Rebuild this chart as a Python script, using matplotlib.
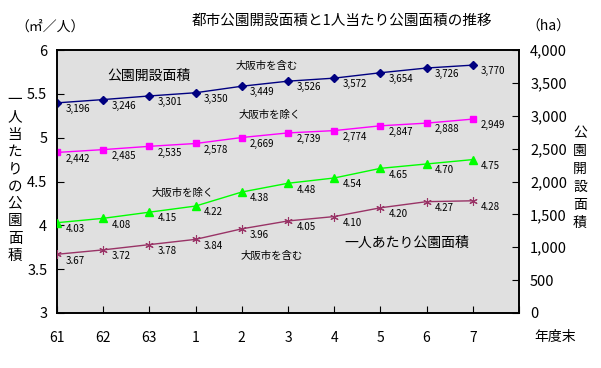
import numpy as np
import matplotlib.pyplot as plt

plt.rcParams['font.family'] = ['Noto Sans CJK JP', 'DejaVu Sans']

# 年度
years = ['61', '62', '63', '1', '2', '3', '4', '5', '6', '7']
# 公園開設面積 (ha)
area_incl = [3196, 3246, 3301, 3350, 3449, 3526, 3572, 3654, 3726, 3770]
area_excl = [2442, 2485, 2535, 2578, 2669, 2739, 2774, 2847, 2888, 2949]
# 一人当たり公園面積 (m2/人)
pp_excl = [4.03, 4.08, 4.15, 4.22, 4.38, 4.48, 4.54, 4.65, 4.70, 4.75]
pp_incl = [3.67, 3.72, 3.78, 3.84, 3.96, 4.05, 4.10, 4.20, 4.27, 4.28]

x = np.arange(len(years))

fig = plt.figure(figsize=(6.01, 3.68), dpi=100)
ax = fig.add_axes([57/601, 55/368, 462/601, 263/368])
ax2 = ax.twinx()

ax.set_xlim(0, 10)
ax.set_ylim(3, 6)
ax2.set_ylim(0, 4000)
ax.set_xticks(np.arange(11))
ax.set_xticklabels(years + [''])
ax.set_yticks(np.arange(3, 6.01, 0.5))
ax.set_yticklabels(['3', '3.5', '4', '4.5', '5', '5.5', '6'])
ax2.set_yticks(np.arange(0, 4001, 500))
ax2.set_yticklabels([f'{v:,}' for v in range(0, 4001, 500)])

ax.tick_params(axis='x', direction='in', length=5, pad=13, labelsize=10)
ax.tick_params(axis='y', direction='in', length=5, pad=7, labelsize=10.5)
ax2.tick_params(axis='y', direction='in', length=5, pad=8, labelsize=10.5)
for a in (ax, ax2):
    for s in a.spines.values():
        s.set_linewidth(1.2)

lbl = dict(fontsize=7, va='center', ha='left', textcoords='offset points')

ax2.plot(x, area_incl, color='#000080', lw=1, marker='D', ms=4, zorder=3)
for xi, v in zip(x, area_incl):
    ax2.annotate(f'{v:,}', (xi, v), xytext=(6, -4.5), **lbl)

ax2.plot(x, area_excl, color='#ff00ff', lw=1, marker='s', ms=5, zorder=3)
for xi, v in zip(x, area_excl):
    ax2.annotate(f'{v:,}', (xi, v), xytext=(6, -4.5), **lbl)

ax.plot(x, pp_excl, color='#00ff00', lw=1, marker='^', ms=6, zorder=3)
for xi, v in zip(x, pp_excl):
    ax.annotate(f'{v:.2f}', (xi, v), xytext=(6, -4.5), **lbl)

ax.plot(x, pp_incl, color='#993366', lw=1, marker=(6, 2, 0), ms=6, mew=0.8, zorder=3)
for xi, v in zip(x, pp_incl):
    ax.annotate(f'{v:.2f}', (xi, v), xytext=(6, -4.5), **lbl)

ax.set_zorder(ax2.get_zorder() + 1)
ax.patch.set_visible(False)
ax2.patch.set_visible(True)
ax2.patch.set_facecolor('#e0e0e0')
ax2.set_zorder(0)
fig.patch.set_facecolor('white')

# 系列の注記
ax.text(2.0, 5.71, '公園開設面積', fontsize=10, ha='center', va='center')
ax.text(4.53, 5.82, '大阪市を含む', fontsize=7.5, ha='center', va='center')
ax.text(4.6, 5.26, '大阪市を除く', fontsize=7.5, ha='center', va='center')
ax.text(2.73, 4.37, '大阪市を除く', fontsize=7.5, ha='center', va='center')
ax.text(7.58, 3.80, '一人あたり公園面積', fontsize=10, ha='center', va='center')
ax.text(4.65, 3.65, '大阪市を含む', fontsize=7.5, ha='center', va='center')

fig.text(342/601, 1 - 21/368, '都市公園開設面積と1人当たり公園面積の推移', fontsize=10.5, ha='center', va='center')
fig.text(50/601, 1 - 27/368, '（㎡／人）', fontsize=10, ha='center', va='center')
fig.text(548/601, 1 - 27/368, '（ha）', fontsize=10, ha='center', va='center')
fig.text(555/601, 1 - 337/368, '年度末', fontsize=10, ha='center', va='center')
fig.text(15/601, 1 - 178/368, '\n'.join('一人当たりの公園面積'), fontsize=10.5,
         ha='center', va='center', linespacing=1.3)
fig.text(580/601, 1 - 178/368, '\n'.join('公園開設面積'), fontsize=10,
         ha='center', va='center', linespacing=1.35)

fig.savefig('out.png', dpi=100)
